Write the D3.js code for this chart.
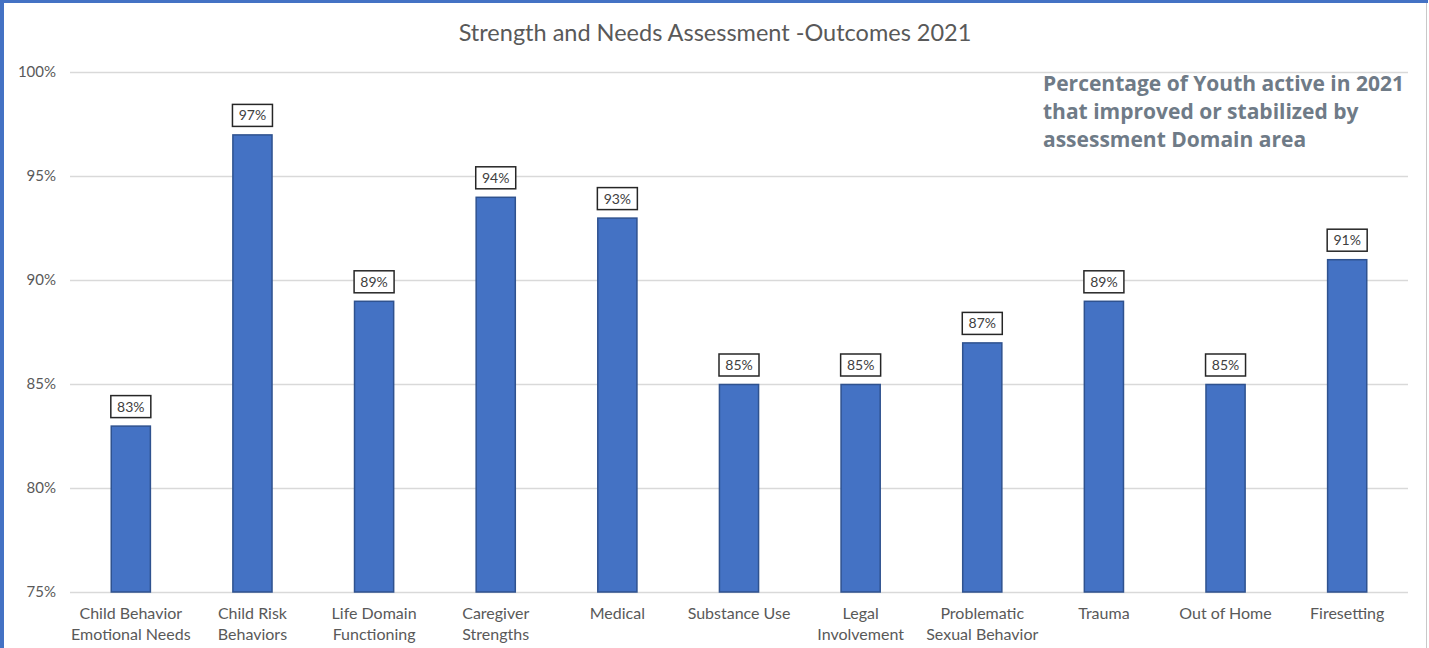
<!DOCTYPE html>
<html>
<head>
<meta charset="utf-8">
<script src="https://cdn.jsdelivr.net/npm/d3@7"></script>
<style>
  html, body { margin: 0; padding: 0; background: #fff; }
  svg { display: block; }
</style>
</head>
<body>
<div id="chart"></div>
<script>
const categories = [
  "Child Behavior|Emotional Needs",
  "Child Risk|Behaviors",
  "Life Domain|Functioning",
  "Caregiver|Strengths",
  "Medical",
  "Substance Use",
  "Legal|Involvement",
  "Problematic|Sexual Behavior",
  "Trauma",
  "Out of Home",
  "Firesetting"
];
const values = [83, 97, 89, 94, 93, 85, 85, 87, 89, 85, 91];
const yTicks = [75, 80, 85, 90, 95, 100];
const title = "Strength and Needs Assessment -Outcomes 2021";
const noteLines = [
  "Percentage of Youth active in 2021",
  "that improved or stabilized by",
  "assessment Domain area"
];

const width = 1429;
const height = 648;
const margin = { top: 72, right: 21, bottom: 56, left: 70 };

const svg = d3.select("#chart")
  .append("svg")
  .attr("width", width)
  .attr("height", height);

// frame: blue edge at left/top, thin gray at right
svg.append("rect").attr("x", 0).attr("y", 0).attr("width", 4).attr("height", height).attr("fill", "#4472C4");
svg.append("rect").attr("x", 0).attr("y", 0).attr("width", 1428).attr("height", 3).attr("fill", "#4472C4");
svg.append("line")
  .attr("x1", 1426.5).attr("x2", 1426.5).attr("y1", 3).attr("y2", height)
  .attr("stroke", "#c8c8c8").attr("stroke-width", 1);

const x = d3.scaleBand()
  .domain(categories)
  .range([margin.left, width - margin.right])
  .paddingInner(0.67)
  .paddingOuter(0.335);

const y = d3.scaleLinear()
  .domain([75, 100])
  .range([height - margin.bottom, margin.top]);

// gridlines
svg.append("g")
  .selectAll("line")
  .data(yTicks)
  .join("line")
  .attr("x1", margin.left)
  .attr("x2", width - margin.right)
  .attr("y1", d => Math.round(y(d)) + 0.5)
  .attr("y2", d => Math.round(y(d)) + 0.5)
  .attr("stroke", "#d9d9d9")
  .attr("stroke-width", 1.3);

// y labels
svg.append("g")
  .selectAll("text")
  .data(yTicks)
  .join("text")
  .attr("x", 56)
  .attr("y", d => y(d) + 5)
  .attr("text-anchor", "end")
  .attr("font-family", "Lato, 'Open Sans', sans-serif")
  .attr("font-size", 15)
  .attr("fill", "#595959")
  .text(d => d + "%");

// bars
svg.append("g")
  .selectAll("rect")
  .data(values)
  .join("rect")
  .attr("x", (d, i) => x(categories[i]) + 0.5)
  .attr("y", d => y(d) + 0.5)
  .attr("width", x.bandwidth() - 1)
  .attr("height", d => y(75) - y(d) - 0.5)
  .attr("fill", "#4472C4")
  .attr("stroke", "#2F528F")
  .attr("stroke-width", 1.5);

// value labels with boxes
const lab = svg.append("g")
  .selectAll("g")
  .data(values)
  .join("g")
  .attr("transform", (d, i) => `translate(${x(categories[i]) + x.bandwidth() / 2},${y(d) - 7})`);

lab.append("rect")
  .attr("x", -20)
  .attr("y", -23)
  .attr("width", 40)
  .attr("height", 22)
  .attr("fill", "#fff")
  .attr("stroke", "#262626")
  .attr("stroke-width", 1.5);

lab.append("text")
  .attr("y", -7)
  .attr("text-anchor", "middle")
  .attr("font-family", "Lato, 'Open Sans', sans-serif")
  .attr("font-size", 14)
  .attr("fill", "#404040")
  .text(d => d + "%");

// category labels
const cat = svg.append("g")
  .selectAll("text")
  .data(categories)
  .join("text")
  .attr("x", d => x(d) + x.bandwidth() / 2)
  .attr("y", 619)
  .attr("text-anchor", "middle")
  .attr("font-family", "Lato, 'Open Sans', sans-serif")
  .attr("font-size", 16)
  .attr("fill", "#595959");

cat.selectAll("tspan")
  .data(d => d.split("|"))
  .join("tspan")
  .attr("x", function () { return d3.select(this.parentNode).attr("x"); })
  .attr("dy", (d, i) => i === 0 ? 0 : 21)
  .text(d => d);

// title
svg.append("text")
  .attr("x", 715)
  .attr("y", 41)
  .attr("text-anchor", "middle")
  .attr("font-family", "Lato, 'Open Sans', sans-serif")
  .attr("font-size", 23.5)
  .attr("fill", "#595959")
  .text(title);

// annotation
svg.append("g")
  .selectAll("text")
  .data(noteLines)
  .join("text")
  .attr("x", 1043)
  .attr("y", (d, i) => 91 + i * 28)
  .attr("font-family", "'Open Sans', sans-serif")
  .attr("font-weight", "bold")
  .attr("font-size", 21)
  .attr("fill", "#6f7b87")
  .text(d => d);
</script>
</body>
</html>
